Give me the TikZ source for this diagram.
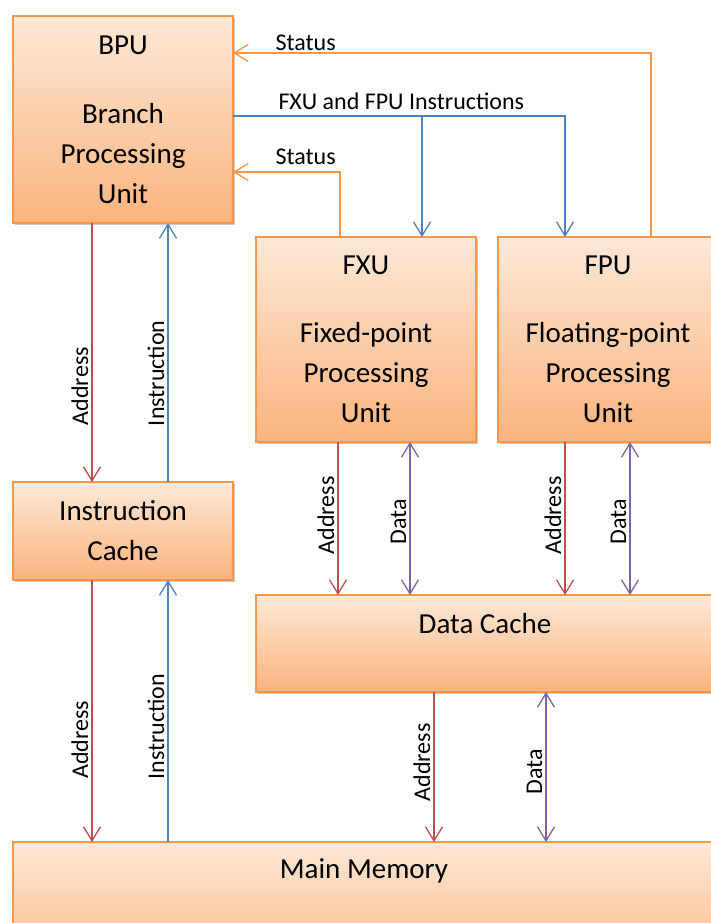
\documentclass[tikz,border=0pt]{standalone}
\usepackage{fontspec}
\setmainfont{Carlito}
\usetikzlibrary{arrows.meta, shadows}

\definecolor{unitline}{HTML}{F79646}
\definecolor{unittop}{HTML}{FDE8D7}
\definecolor{unitbot}{HTML}{FAB47E}
\definecolor{addrred}{HTML}{C0504D}
\definecolor{instrblue}{HTML}{4F81BD}
\definecolor{datapurple}{HTML}{8064A2}

\tikzset{
  unit/.style={draw=unitline, line width=1.5pt, top color=unittop, bottom color=unitbot,
    align=center, font=\fontsize{29}{40}\selectfont, inner sep=0pt, outer sep=0pt,
    drop shadow={shadow xshift=2pt, shadow yshift=-2pt, opacity=0.3, fill=black!70}},
  unittext/.style={font=\fontsize{29}{40}\selectfont, inner sep=0pt, anchor=base},
  tag/.style={font=\fontsize{24}{28}\selectfont, text=black, inner sep=0pt},
  vtag/.style={tag, rotate=90, anchor=south, inner sep=3pt},
  addr/.style={addrred, line width=1.3pt, ->},
  instr/.style={instrblue, line width=1.3pt, ->},
  data/.style={datapurple, line width=1.3pt, <->},
  stat/.style={unitline, line width=1.3pt, ->}
}

\begin{document}
\begin{tikzpicture}[x=1pt, y=-1pt, >={Straight Barb[length=14pt, width=17pt]}]
  \useasboundingbox (0,0) rectangle (711,923);
  \clip (0,0) rectangle (711,923);

  % processing units
  \node[unit, minimum width=220pt, minimum height=207pt] (bpu) at (123,119.5) {BPU\\[29pt] Branch\\ Processing\\ Unit};
  \node[unit, minimum width=220pt, minimum height=205pt] (fxu) at (366,339.5) {FXU\\[28pt] Fixed-point\\ Processing\\ Unit};
  \node[unit, minimum width=220pt, minimum height=205pt] (fpu) at (608,339.5) {FPU\\[28pt] Floating-point\\ Processing\\ Unit};

  % caches and memory
  \node[unit, minimum width=220pt, minimum height=98pt] (ic) at (123,531) {Instruction\\ Cache};
  \node[unit, minimum width=458pt, minimum height=97pt] (dc) at (485,643.5) {};
  \node[unittext] (dctext) at ([yshift=-38pt]dc.north) {Data Cache};
  \node[unit, minimum width=702pt, minimum height=140pt] (mm) at (364,912) {};
  \node[unittext] (mmtext) at ([yshift=-36pt]mm.north) {Main Memory};

  % bus points
  \coordinate (stat1) at ([yshift=-37pt]bpu.north east);
  \coordinate (ibus) at ([yshift=-100pt]bpu.north east);
  \coordinate (stat2) at ([yshift=-156pt]bpu.north east);
  \coordinate (fxuin) at ([xshift=166pt]fxu.north west);
  \coordinate (fpuin) at ([xshift=67pt]fpu.north west);

  % status and instruction buses
  \draw[stat] ([xshift=153pt]fpu.north west) |- (stat1)
    node[tag, anchor=base west, xshift=42pt, yshift=2pt] {Status};
  \draw[instr] (ibus) node[tag, anchor=base west, xshift=45pt, yshift=6pt] {FXU and FPU Instructions} -| (fpuin);
  \draw[instr] (ibus -| fxuin) -- (fxuin);
  \draw[stat] ([xshift=84pt]fxu.north west) |- (stat2)
    node[tag, anchor=base west, xshift=42pt, yshift=8pt] {Status};

  % bpu <-> instruction cache <-> memory
  \draw[addr] ([xshift=79pt]bpu.south west) -- ([xshift=79pt]ic.north west) node[vtag, pos=0.63] {Address};
  \draw[instr] ([xshift=155pt]ic.north west) -- ([xshift=155pt]bpu.south west) node[vtag, pos=0.42] {Instruction};
  \draw[addr] ([xshift=79pt]ic.south west) -- ([xshift=79pt]mm.north west) node[vtag, pos=0.61] {Address};
  \draw[instr] ([xshift=155pt]mm.north west) -- ([xshift=155pt]ic.south west) node[vtag, pos=0.44] {Instruction};

  % units <-> data cache
  \draw[addr] ([xshift=82pt]fxu.south west) -- ([xshift=82pt]dc.north west) node[vtag, pos=0.48] {Address};
  \draw[data] ([xshift=154pt]fxu.south west) -- ([xshift=154pt]dc.north west) node[vtag, pos=0.52] {Data};
  \draw[addr] ([xshift=67pt]fpu.south west) -- ([xshift=309pt]dc.north west) node[vtag, pos=0.48] {Address};
  \draw[data] ([xshift=132pt]fpu.south west) -- ([xshift=374pt]dc.north west) node[vtag, pos=0.52] {Data};

  % data cache <-> memory
  \draw[addr] ([xshift=178pt]dc.south west) -- ([xshift=421pt]mm.north west) node[vtag, pos=0.47] {Address};
  \draw[data] ([xshift=290pt]dc.south west) -- ([xshift=533pt]mm.north west) node[vtag, pos=0.53] {Data};
\end{tikzpicture}
\end{document}
